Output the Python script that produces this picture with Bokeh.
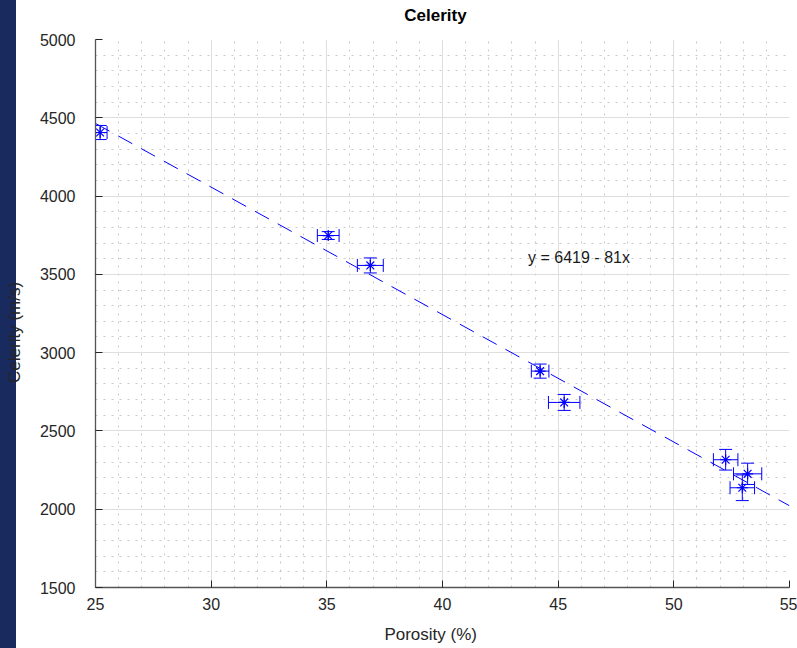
from bokeh.plotting import figure
from bokeh.models import (Whisker, TeeHead, ColumnDataSource, SingleIntervalTicker,
                          FixedTicker, LinearAxis, Label, Range1d)
from bokeh.embed import file_html
from bokeh.resources import INLINE

# ---- data ----
porosity = [25.2, 35.06, 36.88, 44.22, 45.26, 52.24, 53.19, 52.96]
celerity = [4406, 3748, 3557, 2882, 2682, 2316, 2226, 2137]
porosity_err = [0.30, 0.47, 0.56, 0.38, 0.68, 0.53, 0.61, 0.53]
celerity_err = [45, 25, 48, 45, 51, 66, 68, 82]
fit_intercept = 6499
fit_slope = -81.4
fit_x = [25, 55]
fit_label = "y = 6419 - 81x"
title_text = "Celerity"
x_label = "Porosity (%)"
y_label = "Celerity (m/s)"

FONT = "Liberation Sans"
BLUE = "#0000ff"
NB = "\u00a0"  # padding used to nudge centred labels like the reference

src = ColumnDataSource(dict(
    x=porosity, y=celerity,
    xl=[a - e for a, e in zip(porosity, porosity_err)],
    xu=[a + e for a, e in zip(porosity, porosity_err)],
    yl=[a - e for a, e in zip(celerity, celerity_err)],
    yu=[a + e for a, e in zip(celerity, celerity_err)],
))

p = figure(width=797, height=648, output_backend="svg", toolbar_location=None,
           x_range=Range1d(25, 55), y_range=Range1d(1500, 5000),
           min_border_left=95, min_border_right=8, min_border_top=39, min_border_bottom=61)
p.outline_line_color = None
p.background_fill_color = "white"
p.border_fill_alpha = 0.0
p.styles = {"background": "linear-gradient(to right, #192a5e 0px, #192a5e 16px, #ffffff 16px, #ffffff 100%)"}

# axes
p.xaxis.ticker = SingleIntervalTicker(interval=5, num_minor_ticks=5)
p.yaxis.ticker = SingleIntervalTicker(interval=500, num_minor_ticks=5)
for axs in (p.xaxis, p.yaxis):
    axs.major_tick_in = 7
    axs.major_tick_out = 0
    axs.minor_tick_in = 0
    axs.minor_tick_out = 0
    axs.minor_tick_line_color = None
    axs.axis_line_color = "#555555"
    axs.axis_line_width = 1.3
    axs.major_tick_line_color = "#262626"
    axs.major_label_text_font = FONT
    axs.major_label_text_font_size = "16px"
    axs.major_label_text_color = "#262626"
    axs.axis_label_text_font = FONT
    axs.axis_label_text_font_size = "17px"
    axs.axis_label_text_font_style = "normal"
    axs.axis_label_text_color = "#262626"
p.yaxis.major_label_standoff = 20
p.xaxis.major_label_standoff = 10
p.xaxis.axis_label = x_label + NB * 5
p.xaxis.axis_label_standoff = 12
p.yaxis.axis_label = y_label + NB * 8
p.yaxis.axis_label_standoff = 13

# title as the label of a bare axis above the frame
top = LinearAxis(ticker=FixedTicker(ticks=[]), axis_label=title_text + NB * 3,
                 axis_label_text_font=FONT, axis_label_text_font_size="17px",
                 axis_label_text_font_style="bold", axis_label_text_color="#000000",
                 axis_label_standoff=15, axis_line_color=None,
                 major_tick_line_color=None, minor_tick_line_color=None,
                 major_tick_in=0, major_tick_out=0, minor_tick_in=0, minor_tick_out=0,
                 major_label_text_font_size="0px")
p.add_layout(top, "above")

# grids
for gs in (p.xgrid, p.ygrid):
    gs.grid_line_color = "#dedede"
    gs.grid_line_width = 1
    gs.minor_grid_line_color = "#c8c8c8"
    gs.minor_grid_line_dash = "2 6"
    gs.minor_grid_line_width = 1

# fit line
fit_y = [fit_intercept + fit_slope * v for v in fit_x]
p.line(fit_x, fit_y, line_color=BLUE, line_dash="16 10", line_width=1)

# error bars
p.add_layout(Whisker(source=src, base="y", lower="xl", upper="xu", dimension="width",
                     line_color=BLUE, line_width=1,
                     lower_head=TeeHead(size=13, line_color=BLUE, line_width=1),
                     upper_head=TeeHead(size=13, line_color=BLUE, line_width=1)))
p.add_layout(Whisker(source=src, base="x", lower="yl", upper="yu", dimension="height",
                     line_color=BLUE, line_width=1,
                     lower_head=TeeHead(size=13, line_color=BLUE, line_width=1),
                     upper_head=TeeHead(size=13, line_color=BLUE, line_width=1)))
p.scatter("x", "y", source=src, marker="asterisk", size=11, line_color=BLUE, line_width=1.2)

# equation text
p.add_layout(Label(x=43.7, y=3605, text=fit_label, text_font=FONT, text_font_size="16px",
                   text_color="#1a1a1a", text_baseline="alphabetic", text_align="left"))

open("out.html", "w").write(file_html(p, INLINE))
